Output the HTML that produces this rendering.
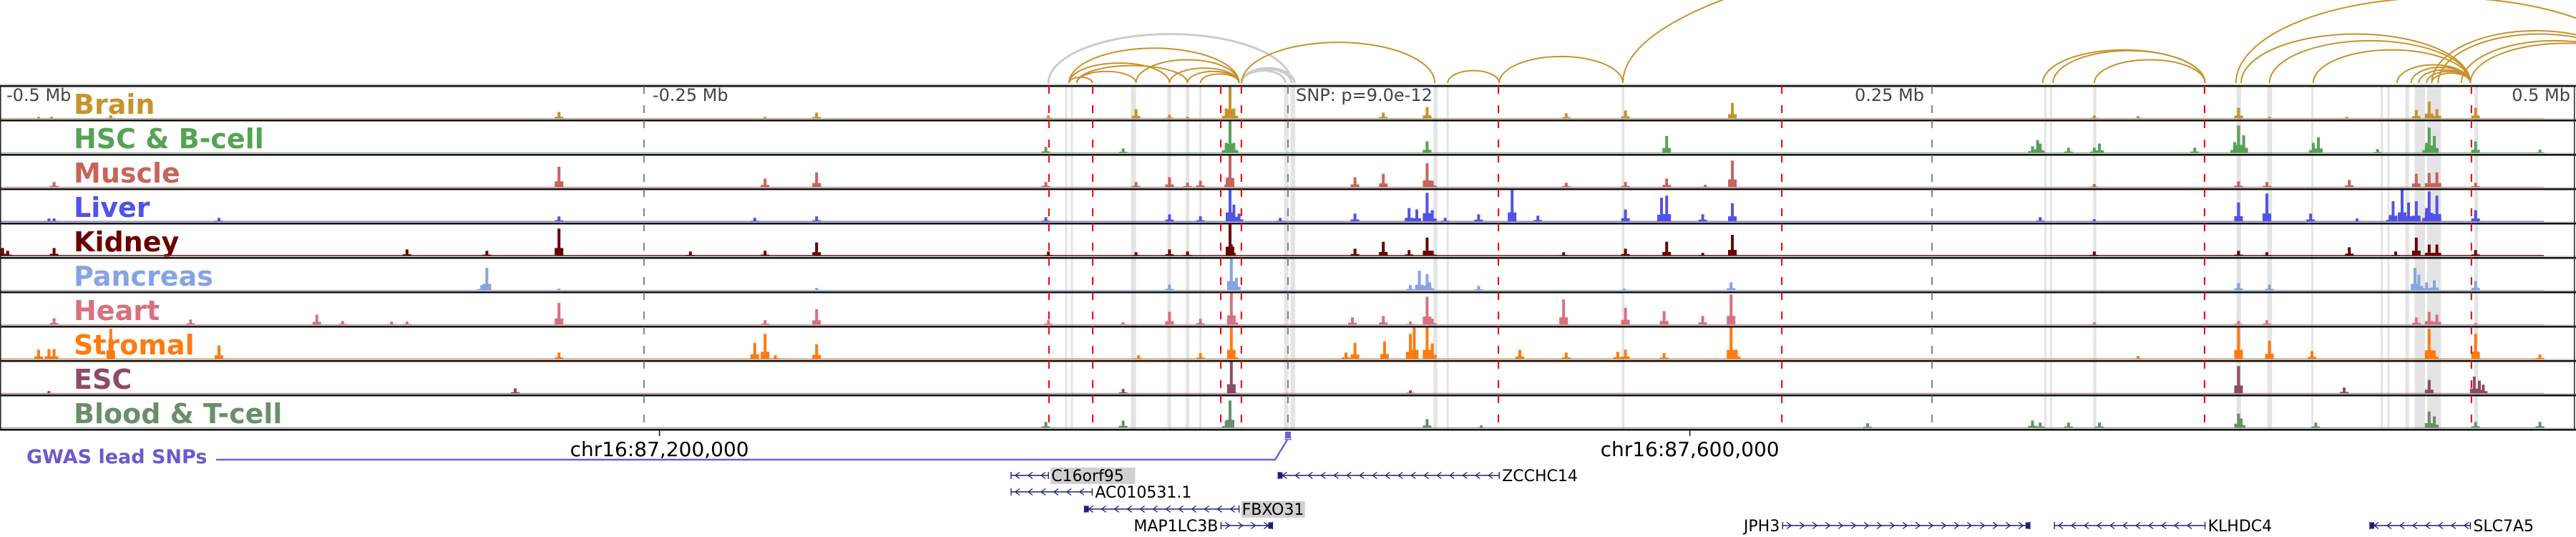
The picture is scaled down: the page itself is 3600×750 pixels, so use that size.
<!DOCTYPE html>
<html><head><meta charset="utf-8"><style>
html,body{margin:0;padding:0;background:#fff;}
svg{display:block;font-family:"DejaVu Sans","Liberation Sans",sans-serif;}
</style></head><body>
<svg id="chart" width="3600" height="750" viewBox="0 0 3600 750" xmlns="http://www.w3.org/2000/svg">
<g id="bands"></g>
<g id="arcs"></g>
<g id="labels"></g>
<g id="signals"></g>
<g id="frame"></g>
<g id="vlines"></g>
<g id="axis"></g>
<g id="genes"></g>
</svg>
<script>
// ---------- data (kb relative to lead SNP) ----------
const snpGenomic = 87444000;
const topTicks = [-250, 0, 250];
const topTickLabels = ["-0.25 Mb", "", "0.25 Mb"];
const genomicTicks = [87200000, 87600000];
const redLines = [-92.8, -75.8, -26.1, -18.1, 81.7, 191.7, 355.8, 459.4];
const bandStarts = [-86.5,-84.3,-61,-46.8,-39.7,-34.4,-1.5,1,56.5,61.6,129.6,293.6,295.8,312.6,368.2,380.2,397.2,424.2,426.8,433.8,437.4,442.2,460.6];
const bandEnds   = [-85.7,-83.5,-59,-45.4,-38.3,-33.6,0.2,2.8,58,62.4,130.6,294.4,296.6,313.8,370,382,398,425,427.6,435.2,441.4,447.6,462];

const trackNames = ["Brain","HSC & B-cell","Muscle","Liver","Kidney","Pancreas","Heart","Stromal","ESC","Blood & T-cell"];
const trackColors = ["#c8922c","#55a355","#c8645c","#5252e8","#6b0000","#86a4e4","#d9707f","#ff7a10","#8e4a66","#6a8f6a"];
const backgroundLevel = [1.2,1.2,1.2,1.5,2,1.2,1.2,1.5,1.2,1.2];

const brainPeaks = [[-485,3],[-480,3],[-457,5],[-283,10],[-203,3],[-183,9],[-93,5],[-59,14],[-46,6],[-39,3],[-24,15],[-22.5,46],[-21,15],[37,9],[54,17],[108,8],[131,12],[172.5,23],[313,5],[330,4],[369,16],[381,3],[411,3],[438,13],[443,25],[446,14],[461,16]];
const hscPeaks = [[-94,9],[-64,7],[-24,15],[-22.5,46],[-21,15],[54,17],[147,25],[289,10],[291,19],[292,14],[303,8],[313,8],[315,14],[352,8],[367.5,16],[369,40],[371,26],[398,15],[400,23],[423,6],[442,15],[443,37],[445,25],[461,17],[486,5]];
const musclePeaks = [[-479,8],[-283,30],[-203,13],[-183,22],[-94,8],[-59,8],[-46,15],[-39,7],[-34,10],[-23,15],[-22.5,46],[26,15],[37,20],[54,35],[56,10],[108,7],[131,8],[147,13],[162,4],[172.5,39],[313,5],[369,9],[380,8],[412,11],[438,20],[443,21],[446,22],[461,7]];
const liverPeaks = [[-481,5],[-479,5],[-415,6],[-283,8],[-207,6],[-183,8],[-94,7],[-46,11],[-34,8],[-22.5,46],[-21,25],[-19,12],[-3,6],[26,12],[47,20],[50,18],[54,42],[56,17],[61,6],[74,11],[87,46],[97,9],[131,18],[145,35],[147,38],[161,11],[172.5,27],[292,7],[313,4],[369,28],[380,41],[397,12],[415,5],[428,10],[429,30],[432.5,46],[435,28],[438,30],[442,20],[443,44],[446,38],[461,17]];
const kidneyPeaks = [[-499,12],[-497,8],[-479,12],[-342,10],[-311,8],[-283,40],[-232,7],[-203,8],[-183,20],[-93,7],[-59,6],[-46,10],[-39,7],[-22.5,46],[-22,17],[26,11],[37,21],[47,9],[54,27],[56,8],[107,6],[131,11],[147,21],[161,5],[172.5,31],[313,7],[369,8],[380,6],[412,13],[430,7],[438,27],[443,17],[446,17],[461,9]];
const pancreasPeaks = [[-313,8],[-311,33],[-283,3],[-183,4],[-46,9],[-22,46],[-20,19],[47.5,8],[51,29],[54,24],[55,12],[74,7],[130.5,3],[172,12],[369,11],[381,9],[437.5,33],[439,23],[442,12],[445,15],[461,14]];
const heartPeaks = [[-479,10],[-426,8],[-377,15],[-367,6],[-348,5],[-342,5],[-283,32],[-203,7],[-183,23],[-93,7],[-64,4],[-46,19],[-34,9],[-22,46],[-21,13],[25,11],[37,13],[47.5,5],[54,41],[56,9],[107,37],[131,25],[146,20],[161,13],[172,44],[313,4],[369,6],[380,7],[438,11],[443,19],[446,15],[461,3]];
const stromalPeaks = [[-485,14],[-481,15],[-479,15],[-457,44],[-415,20],[-283,10],[-207,24],[-203,37],[-199,6],[-183,22],[-58,6],[-34,9],[-22,46],[-21,10],[22.5,10],[26,24],[37.5,26],[47.5,37],[49,46],[54,46],[56,23],[90,14],[108,10],[128,11],[131,14],[146,9],[172,46],[174,14],[330,5],[369,46],[381,27],[397.5,12],[443,44],[445,13],[461,37],[486,7]];
const escPeaks = [[-481,4],[-300,8],[-64,7],[-22,46],[-21,5],[47.5,5],[369,40],[410,9],[443,20],[460.5,25],[462.5,19],[464,13]];
const bloodPeaks = [[-94,9],[-64,11],[-24,10],[-22.5,40],[54,13],[75,4],[225,7],[289,11],[292,8],[303,8],[315,8],[369,21],[370,14],[399,8],[443,24],[445,17],[461,9],[486,9]];
const allPeaks = [brainPeaks,hscPeaks,musclePeaks,liverPeaks,kidneyPeaks,pancreasPeaks,heartPeaks,stromalPeaks,escPeaks,bloodPeaks];

const arcStarts = [-93,-18,-18,-18,-85,-85,-85,-82,-82,-59,-46,-39,-34,-18,62,82,130,293,297,313,368,370,381,398,430.5,436,439,442,444,444,446.5,455.5,459];
const arcEnds   = [1.4,-1,1.4,2.5,-19,-76,-46,-59,-39,-19,-19,-19,-19,57,82,130,611,356,356,356,528,459,459,459,459,459,459,459,459,525,525,528,533];
const arcScores = [59,15,17,18,42,7,24,14,21,28,18,14,11,49,15,32,184,40,39,28,103,59,51,40,22,19,16,14,12,63,59,51,48];
const arcGrey   = [1,1,1,1,0,0,0,0,0,0,0,0,0,0,0,0,0,0,0,0,0,0,0,0,0,0,0,0,0,0,0,0,0];

const geneNames  = ["C16orf95","AC010531.1","FBXO31","MAP1LC3B","ZCCHC14","JPH3","KLHDC4","SLC7A5"];
const geneStarts = [-107.5,-107.5,-79,-26,-3.8,192,297.5,420];
const geneEnds   = [-93,-76,-19,-6,82,288,356,459];
const geneStrand = [-1,-1,-1,1,-1,1,-1,-1];
const geneRow    = [0,1,2,3,0,3,3,3];
const geneHighlight = [1,0,1,0,0,0,0,0];
const geneBox    = [0,0,1,1,1,1,0,1];

// ---------- scales ----------
const X0 = 1800, PXKB = 3.6;
function x(kb){ return X0 + kb*PXKB; }
const TOP = 120, TH = 48, SIGMAX = 46;
function yTrack(i, v){ const base = TOP + i*TH + 46; return base - Math.min(v, SIGMAX)/SIGMAX*44.5; }
const NS = "http://www.w3.org/2000/svg";
function mk(tag, attrs, parent){ const e = document.createElementNS(NS, tag); for (const k in attrs) e.setAttribute(k, attrs[k]); parent.appendChild(e); return e; }

// bands
const gB = document.getElementById('bands');
for (let i=0;i<bandStarts.length;i++){
  const r = mk('rect',{x:x(bandStarts[i]),y:TOP,width:Math.max(2,x(bandEnds[i])-x(bandStarts[i])),height:480,fill:'#e4e4e4'},gB);
  
  
}

// arcs
const gA = document.getElementById('arcs');
const ARCBASE = 116;
for (let i=0;i<arcStarts.length;i++){
  const x1 = x(arcStarts[i]), x2 = x(arcEnds[i]);
  const rx = (x2-x1)/2, ry = arcScores[i]/100*116;
  const p = mk('path',{d:`M${x1},${ARCBASE} A${rx},${ry} 0 0 1 ${x2},${ARCBASE}`,fill:'none',stroke:arcGrey[i]?'#cccccc':'#c8922c','stroke-width':arcGrey[i]?3:2},gA);
  
  
}

// labels
const gL = document.getElementById('labels');
for (let i=0;i<trackNames.length;i++){
  const t = mk('text',{x:103,y:TOP+i*TH+39,fill:trackColors[i],'font-size':38,'font-weight':'bold'},gL);
  t.textContent = trackNames[i];
  
  
}

// signals
const gS = document.getElementById('signals');
for (let i=0;i<trackNames.length;i++){
  const g = mk('g',{},gS);
  
  
  const bl = yTrack(i,0);
  mk('rect',{x:0,y:yTrack(i,backgroundLevel[i]),width:3555,height:bl-yTrack(i,backgroundLevel[i]),fill:trackColors[i],opacity:0.85},g);
  for (const [kb,v] of allPeaks[i]){
    const yy = yTrack(i,v);
    const ys = yTrack(i,v*0.3);
    const cx = x(kb);
    const b = mk('path',{d:`M${cx-6},${bl} L${cx-6},${ys} L${cx-2},${ys} L${cx-2},${yy} L${cx+2},${yy} L${cx+2},${ys} L${cx+6},${ys} L${cx+6},${bl} Z`,fill:trackColors[i]},g);
    
    
  }
}

// frame
const gF = document.getElementById('frame');
for (let i=0;i<=10;i++){
  const y = TOP + i*TH;
  mk('rect',{x:0,y:y-2.5,width:3600,height:1,fill:'#aaaaaa'},gF);
  mk('rect',{x:0,y:y-1,width:3600,height:2.5,fill:'#111'},gF);
}
mk('rect',{x:0,y:TOP,width:1.5,height:480,fill:'#222'},gF);
mk('rect',{x:3597,y:TOP,width:1.5,height:480,fill:'#222'},gF);

// vertical marker lines
const gV = document.getElementById('vlines');
for (const kb of redLines){
  const l = mk('line',{x1:x(kb),x2:x(kb),y1:TOP,y2:600,stroke:'#ee0000','stroke-width':2,'stroke-dasharray':'11 16 11 10'},gV);
  
  
}
for (const kb of topTicks){
  const l = mk('line',{x1:x(kb),x2:x(kb),y1:TOP,y2:600,stroke:'#666','stroke-width':1.6,'stroke-dasharray':'11 16 11 10'},gV);
  
  
}

// axis labels
const gX = document.getElementById('axis');
function txt(s, attrs, name){ const t = mk('text',attrs,gX); t.textContent = s;   return t; }
txt("-0.5 Mb",{x:9,y:141,'font-size':24,fill:'#444'},'left-range-label');
txt("0.5 Mb",{x:3592,y:141,'font-size':24,fill:'#444','text-anchor':'end'},'right-range-label');
for (let i=0;i<topTicks.length;i++){
  if (!topTickLabels[i]) continue;
  const neg = topTicks[i] < 0;
  txt(topTickLabels[i],{x:neg?x(topTicks[i])+12:x(topTicks[i])-11,y:141,'font-size':24,fill:'#444','text-anchor':neg?'start':'end'},'distance-tick-label');
}
txt("SNP: p=9.0e-12",{x:x(0)+11,y:141,'font-size':24,fill:'#444'},'snp-pvalue-label');
for (const g of genomicTicks){
  const kb = (g - snpGenomic)/1000;
  mk('line',{x1:x(kb),x2:x(kb),y1:601,y2:609,stroke:'#111','stroke-width':1.5},gX);
  txt('chr16:'+g.toLocaleString('en-US'),{x:x(kb),y:637,'font-size':28,fill:'#000','text-anchor':'middle'},'genomic-coordinate-label');
}
// GWAS
txt("GWAS lead SNPs",{x:37,y:647,'font-size':27,'font-weight':'bold',fill:'#6a5acd'},'gwas-track-label');
const gw = mk('polyline',{points:`302,642 ${x(0)-18},642 ${x(0)-1},614`,fill:'none',stroke:'#6f5fd6','stroke-width':2.5},gX);


const sm = mk('rect',{x:x(0)-4,y:603,width:8,height:9,fill:'#6f5fd6'},gX);


mk('rect',{x:x(0)-5,y:612.5,width:10,height:2,fill:'#8a7ee0'},gX);

// genes
const gG = document.getElementById('genes');
const rowY = [664,687,711,734];
const navy = '#1e1e7a';
for (let i=0;i<geneNames.length;i++){
  const g = mk('g',{},gG);
  
  
  const x1 = x(geneStarts[i]), x2 = x(geneEnds[i]), y = rowY[geneRow[i]];
  mk('line',{x1:x1,x2:x2,y1:y,y2:y,stroke:navy,'stroke-width':1.6},g);
  mk('line',{x1:x1,x2:x1,y1:y-5,y2:y+5,stroke:navy,'stroke-width':1.4},g);
  mk('line',{x1:x2,x2:x2,y1:y-5,y2:y+5,stroke:navy,'stroke-width':1.4},g);
  let d = '';
  const s = geneStrand[i];
  for (let cx = x1+9; cx < x2-5; cx += 18){
    d += `M${cx-3*s},${y-4.5} L${cx+3*s},${y} L${cx-3*s},${y+4.5} `;
  }
  mk('path',{d:d,fill:'none',stroke:navy,'stroke-width':1.3},g);
  if (geneBox[i]){
    const bx = s>0 ? x2-6 : x1;
    mk('rect',{x:bx,y:y-4.5,width:6,height:9,fill:navy},g);
  }
  const fs = 22;
  const w = geneNames[i].length*fs*0.66;
  let tx, anchor;
  if (s < 0){ tx = x2+4; anchor='start'; } else { tx = x1-4; anchor='end'; }
  if (geneHighlight[i]){
    mk('rect',{x:tx-1,y:y-11,width:w+2,height:23,fill:'#d0d0d0'},g);
  }
  const t = mk('text',{x:tx,y:y+8,'font-size':fs,fill:'#000','text-anchor':anchor},g);
  t.textContent = geneNames[i];
}
</script>
</body></html>
